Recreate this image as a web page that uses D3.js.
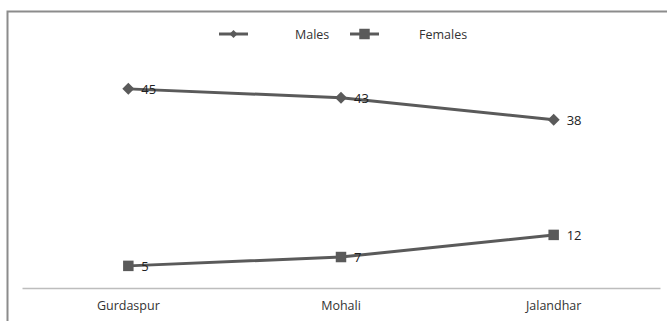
<!DOCTYPE html>
<html><head><meta charset="utf-8">
<script src="https://cdn.jsdelivr.net/npm/d3@7"></script>
<style>body{margin:0;background:#fff;}svg{display:block;}</style>
</head><body>
<script>
const categories = ["Gurdaspur", "Mohali", "Jalandhar"];
const males = [45, 43, 38];
const females = [5, 7, 12];
const seriesNames = ["Males", "Females"];

const W = 667, H = 321;
const svg = d3.select("body").append("svg").attr("width", W).attr("height", H);
const font = "'Open Sans', 'Liberation Sans', sans-serif";
const col = "#5a5a5a";

// outer border (left + top)
svg.append("path").attr("d", `M7.5,${H} V11.5 H${W}`).attr("fill", "none")
  .attr("stroke", "#8c8c8c").attr("stroke-width", 2);

const x = d3.scaleBand().domain(categories).range([22, 660]);
const y = d3.scaleLinear().domain([0, 50]).range([288, 66.75]);

const xAxis = svg.append("g").attr("transform", "translate(0,288)")
  .call(d3.axisBottom(x).tickSize(0).tickPadding(13));
xAxis.select(".domain").attr("stroke", "#bdbdbd").attr("stroke-width", 1.5);
xAxis.selectAll("text").attr("font-family", font).attr("font-size", 12.5).attr("fill", "#333");

const cx = d => x(d) + x.bandwidth() / 2;
const line = d3.line().x((d, i) => cx(categories[i])).y(d => y(d));

const diamond = d3.symbol().type(d3.symbolSquare).size(72);
const square = d3.symbol().type(d3.symbolSquare).size(110);

function drawSeries(vals, sym, rot) {
  svg.append("path").datum(vals).attr("d", line).attr("fill", "none")
    .attr("stroke", col).attr("stroke-width", 3);
  svg.selectAll(null).data(vals).enter().append("path")
    .attr("d", sym).attr("fill", col)
    .attr("transform", (d, i) => `translate(${cx(categories[i])},${y(d)}) rotate(${rot})`);
  svg.selectAll(null).data(vals).enter().append("text")
    .attr("x", (d, i) => cx(categories[i]) + 13).attr("y", d => y(d) + 5)
    .attr("font-family", font).attr("font-size", 13).attr("fill", "#222")
    .text(d => d);
}
drawSeries(males, diamond, 45);
drawSeries(females, square, 0);

// legend
const leg = [{name: seriesNames[0], sym: d3.symbol().type(d3.symbolSquare).size(32), rot: 45, x0: 219, tx: 295},
             {name: seriesNames[1], sym: d3.symbol().type(d3.symbolSquare).size(110), rot: 0, x0: 350, tx: 419}];
leg.forEach(l => {
  svg.append("line").attr("x1", l.x0).attr("x2", l.x0 + 29).attr("y1", 34).attr("y2", 34)
    .attr("stroke", col).attr("stroke-width", 3);
  svg.append("path").attr("d", l.sym).attr("fill", col)
    .attr("transform", `translate(${l.x0 + 14.5},34) rotate(${l.rot})`);
  svg.append("text").attr("x", l.tx).attr("y", 38.5).attr("font-family", font)
    .attr("font-size", 12.5).attr("fill", "#333").text(l.name);
});
</script>
</body></html>
